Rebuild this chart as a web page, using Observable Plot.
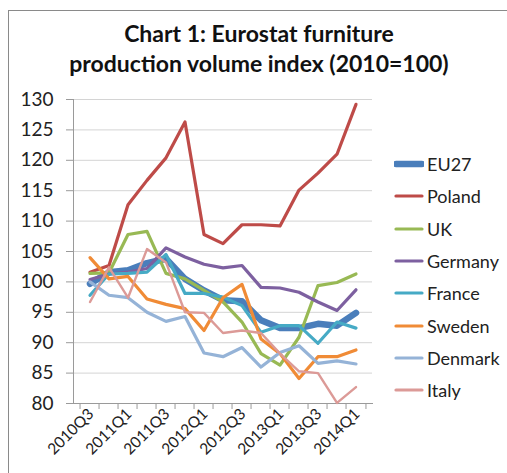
<!DOCTYPE html>
<html><head><meta charset="utf-8">
<script src="https://cdn.jsdelivr.net/npm/d3@7"></script>
<script src="https://cdn.jsdelivr.net/npm/@observablehq/plot@0.6"></script>
<style>
body{margin:0;background:#fff;font-family:Lato,"Open Sans",sans-serif;}
#wrap{position:relative;width:507px;height:473px;overflow:hidden;background:#fff;}
#frame{position:absolute;left:8px;top:10px;width:700px;height:700px;border-left:1px solid #8a8a8a;border-top:1px solid #8a8a8a;}
#title{position:absolute;left:0;top:18px;width:518px;text-align:center;font-weight:bold;font-size:23px;line-height:30px;color:#111;}
#chart{position:absolute;left:0;top:85px;}
#legend{position:absolute;left:394px;top:148px;}
.row{display:flex;align-items:center;height:32.3px;font-size:18px;color:#222;}
.row svg{margin-right:3px;}
</style></head>
<body>
<div id="wrap">
  <div id="frame"></div>
  <div id="title">Chart 1: Eurostat furniture<br>production volume index (2010=100)</div>
  <div id="chart"></div>
  <div id="legend"></div>
</div>
<script>
const quarters = ["2010Q3","2010Q4","2011Q1","2011Q2","2011Q3","2011Q4","2012Q1","2012Q2","2012Q3","2012Q4","2013Q1","2013Q2","2013Q3","2013Q4","2014Q1"];
const xLabels = ["2010Q3","2011Q1","2011Q3","2012Q1","2012Q3","2013Q1","2013Q3","2014Q1"];
const yTicks = [80,85,90,95,100,105,110,115,120,125,130];

const seriesNames = ["EU27","Poland","UK","Germany","France","Sweden","Denmark","Italy"];
const eu27    = [99.7, 101.6, 101.9, 103.1, 103.8, 100.5, 98.6, 97.0, 96.8, 93.7, 92.4, 92.4, 93.1, 92.8, 94.9];
const poland  = [101.6, 102.7, 112.7, 116.7, 120.4, 126.3, 107.8, 106.3, 109.4, 109.4, 109.2, 115.1, 117.9, 121.0, 129.2];
const uk      = [101.4, 101.5, 107.8, 108.3, 101.4, 100.5, 98.6, 96.7, 93.4, 88.2, 86.3, 90.9, 99.4, 99.9, 101.3];
const germany = [100.4, 101.3, 101.6, 102.2, 105.6, 104.1, 102.9, 102.3, 102.7, 99.1, 99.0, 98.3, 96.7, 95.3, 98.7];
const france  = [97.8, 101.3, 101.4, 101.6, 104.5, 98.1, 98.1, 97.5, 96.1, 91.7, 92.8, 92.8, 89.9, 93.4, 92.4];
const sweden  = [104.0, 100.5, 100.9, 97.2, 96.3, 95.6, 92.0, 97.4, 99.6, 90.6, 88.2, 84.1, 87.7, 87.7, 88.8];
const denmark = [100.0, 97.8, 97.4, 95.0, 93.5, 94.3, 88.3, 87.7, 89.2, 86.0, 88.4, 89.5, 86.6, 87.0, 86.5];
const italy   = [96.7, 102.4, 97.4, 105.4, 103.2, 95.0, 94.9, 91.6, 92.0, 91.6, 88.2, 85.3, 85.0, 80.1, 82.7];
const seriesValues = [eu27, poland, uk, germany, france, sweden, denmark, italy];

const colors = ["#4a7ebb","#be4b48","#98b954","#7d60a0","#46aac5","#f08b36","#95b3d7","#dc9a97"];
const widths = [6.5, 3.2, 3.2, 3.2, 3.2, 3.2, 3.2, 2.4];

const table = seriesNames.flatMap((name, s) => seriesValues[s].map((v, i) => ({series: name, q: quarters[i], v})));

const W = 507, H = 388, mL = 73, mR = 135, mT = 14, mB = 70;
const band = (W - mL - mR) / quarters.length;

const lineMarks = seriesNames.map((name, s) =>
  Plot.line(table.filter(d => d.series === name), {
    x: "q", y: "v", stroke: colors[s], strokeWidth: widths[s],
    strokeLinejoin: "round", strokeLinecap: "round"
  })
);

const chart = Plot.plot({
  width: W, height: H,
  marginLeft: mL, marginRight: mR, marginTop: mT, marginBottom: mB,
  style: {fontFamily: "Lato, 'Open Sans', sans-serif", background: "transparent", color: "#222"},
  x: {type: "band", domain: quarters, padding: 0, align: 0.5},
  y: {domain: [80, 130]},
  marks: [
    Plot.gridY(yTicks, {stroke: "#d4d4d4", strokeOpacity: 1, strokeWidth: 1}),
    Plot.axisY(yTicks, {tickSize: 7, tickPadding: 13, fontSize: 19, stroke: "#9a9a9a", fill: "#222", label: null}),
    Plot.frame({anchor: "left", stroke: "#9a9a9a"}),
    Plot.frame({anchor: "bottom", stroke: "#9a9a9a"}),
    Plot.axisX(quarters, {tickSize: 6, tickFormat: () => "", dx: -band / 2, stroke: "#9a9a9a", label: null}),
    Plot.axisX([quarters[quarters.length - 1]], {tickSize: 6, tickFormat: () => "", dx: band / 2, stroke: "#9a9a9a", label: null}),
    Plot.axisX(xLabels, {tickSize: 0, tickPadding: 8, tickRotate: -45, fontSize: 15.5, fill: "#222", label: null, dx: 1}),
    ...lineMarks
  ]
});
document.getElementById("chart").appendChild(chart);

const legend = document.getElementById("legend");
seriesNames.forEach((name, s) => {
  const row = document.createElement("div");
  row.className = "row";
  row.innerHTML = `<svg width="30" height="10"><line x1="2" y1="5" x2="28" y2="5" stroke="${colors[s]}" stroke-width="${s === 0 ? 6.5 : 3.2}" stroke-linecap="round"/></svg><span>${name}</span>`;
  legend.appendChild(row);
});
</script>
</body></html>
